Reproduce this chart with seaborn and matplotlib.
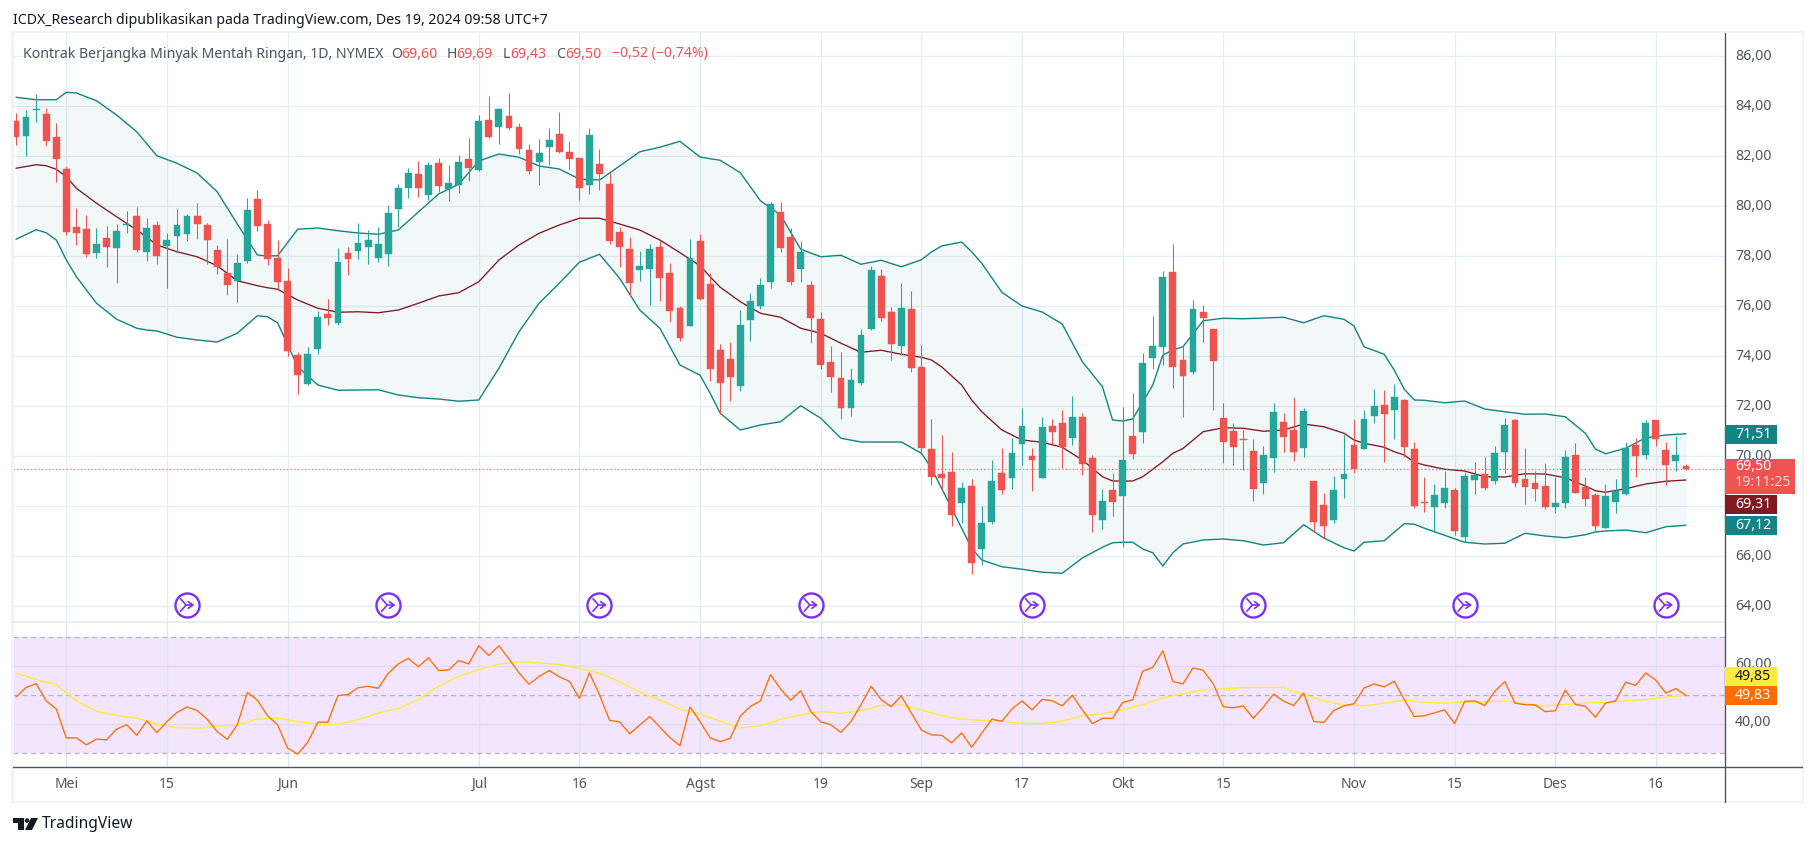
import numpy as np
import pandas as pd
import matplotlib
matplotlib.use("Agg")
import matplotlib.pyplot as plt
from matplotlib.patches import Rectangle, Polygon, Circle
import seaborn as sns

# harga harian (O, H, L, C)
opens = [
    83.41,82.81,83.85,83.69,82.77,81.49,79.17,79.09,78.13,78.73,
    78.33,79.27,79.61,78.17,79.25,78.41,78.81,78.89,79.61,79.25,
    78.25,77.33,77.01,77.81,80.29,79.29,77.93,77.01,74.05,72.89,
    74.29,75.69,75.33,78.13,78.21,78.37,77.93,78.09,79.89,80.73,
    81.29,80.45,81.73,80.69,80.85,81.89,81.45,83.45,83.17,83.61,
    83.17,82.25,81.77,82.37,82.89,82.17,81.93,80.85,81.69,80.89,
    78.97,78.29,77.45,77.49,78.37,77.33,75.93,75.21,78.61,76.89,
    74.25,73.89,72.81,75.45,76.01,76.97,79.77,78.77,77.49,76.85,
    75.49,73.77,73.13,71.93,72.93,75.09,77.21,75.77,74.41,75.89,
    73.57,70.29,69.29,69.37,68.13,68.81,66.29,67.37,69.33,69.13,
    70.49,70.01,69.13,71.21,71.33,70.73,71.57,69.93,67.45,68.65,
    68.41,70.81,70.97,73.93,74.37,77.37,73.85,73.37,75.77,75.09,
    71.53,71.01,70.70,70.21,68.93,69.93,71.37,71.05,70.33,69.01,
    68.05,67.45,69.09,70.45,70.29,71.61,72.05,71.85,72.25,70.29,
    68.17,67.97,68.13,68.65,66.77,69.05,69.29,69.01,70.17,71.45,
    69.09,68.93,68.81,67.97,68.13,70.05,68.77,68.45,67.13,68.17,
    68.49,70.45,70.05,71.45,70.25,69.81,69.60,
]
highs = [
    83.73,83.85,84.49,83.93,83.33,81.61,79.93,79.65,79.13,79.21,
    79.29,79.81,79.97,79.53,79.41,78.93,79.89,79.69,80.13,79.33,
    78.45,78.69,78.09,80.33,80.65,79.45,78.65,77.53,74.17,74.37,
    75.81,76.29,78.33,78.37,79.33,79.05,79.17,80.05,80.89,81.53,
    81.81,81.77,81.93,81.65,82.05,82.73,83.65,84.41,83.93,84.53,
    83.33,82.49,82.69,83.13,83.77,82.61,81.93,83.13,82.29,81.37,
    79.17,78.77,78.21,78.49,78.61,77.73,76.01,78.69,78.89,77.33,
    74.49,74.57,75.85,76.53,77.13,80.17,80.17,79.13,78.61,77.01,
    75.77,74.41,74.17,73.53,75.09,77.61,77.49,75.97,76.93,76.61,
    74.45,71.49,70.85,70.17,68.97,69.09,68.01,69.85,70.33,70.73,
    71.93,70.33,71.57,71.49,71.85,72.41,71.73,70.05,68.69,69.33,
    71.97,72.53,74.13,75.61,77.41,78.49,74.45,76.25,76.05,75.09,
    72.13,71.33,71.05,70.69,70.41,72.13,71.73,72.37,71.93,69.01,
    68.53,69.21,70.85,71.49,71.85,72.69,72.65,72.89,72.29,70.57,
    69.17,68.89,69.41,68.73,69.37,69.77,69.97,70.41,71.53,71.49,
    70.33,69.41,69.73,69.17,70.25,70.53,69.17,68.53,68.89,69.09,
    70.57,70.73,71.45,71.45,70.57,70.81,69.69,
]
lows = [
    82.45,82.01,83.37,82.41,80.97,78.85,78.45,77.97,77.93,77.57,
    76.93,78.93,78.17,77.81,77.69,76.73,78.17,78.61,78.69,77.69,
    77.29,76.45,76.17,77.73,79.01,77.65,76.69,74.01,72.49,72.85,
    74.09,75.25,75.25,77.25,77.89,77.69,77.77,77.61,79.17,80.33,
    80.37,80.25,80.57,80.21,80.53,81.01,81.41,82.73,82.49,83.05,
    82.09,81.29,80.85,81.65,82.13,81.49,80.25,80.49,80.65,78.49,
    77.57,76.41,77.01,76.05,76.21,75.37,74.61,75.21,76.25,73.01,
    71.69,72.21,72.61,74.61,75.89,76.73,78.17,76.85,76.97,74.53,
    73.49,72.57,71.49,71.61,72.85,75.05,75.41,73.85,74.05,73.37,
    70.13,68.85,68.69,67.21,67.33,65.29,65.65,67.29,68.49,68.69,
    69.65,68.61,69.13,70.49,69.53,70.45,69.25,66.97,67.09,67.61,
    66.37,69.89,70.53,73.49,73.65,72.73,71.57,73.29,74.57,71.85,
    69.73,69.65,69.45,68.21,68.49,69.37,70.17,69.81,69.97,66.97,
    66.73,67.33,68.33,69.33,70.29,71.33,69.77,70.69,69.97,67.93,
    67.77,66.97,67.93,66.85,66.57,68.49,68.65,68.89,69.33,68.77,
    68.09,68.21,67.89,67.73,67.93,68.53,68.01,67.01,67.13,67.73,
    68.45,69.17,69.89,70.41,68.85,69.41,69.43,
]
closes = [
    82.78,83.57,83.87,82.61,81.89,78.97,78.93,78.09,78.49,78.37,
    79.01,79.29,78.25,79.13,78.01,78.65,79.25,79.61,79.29,78.65,
    77.57,76.85,77.73,79.85,79.21,77.89,76.97,74.21,73.25,74.09,
    75.57,75.53,77.77,77.89,78.53,78.65,78.49,79.73,80.73,81.33,
    80.73,81.65,80.81,80.93,81.77,81.53,83.41,82.77,83.89,83.13,
    82.29,81.41,82.13,82.65,82.17,81.89,80.73,82.85,81.29,78.61,
    78.37,76.93,77.61,78.29,77.13,75.81,74.73,77.93,76.29,73.49,
    72.93,73.17,75.25,76.21,76.85,80.09,78.33,76.97,78.17,75.53,
    73.65,73.17,71.93,73.05,74.85,77.45,75.53,74.49,75.93,73.53,
    70.33,69.17,69.13,67.65,68.73,65.73,67.33,69.01,68.65,70.13,
    71.21,69.85,71.17,70.97,70.37,71.57,69.69,67.65,68.21,68.17,
    69.85,70.09,73.73,74.41,77.17,73.57,73.21,75.89,75.53,73.81,
    70.57,70.37,70.67,68.69,70.05,71.77,70.77,70.17,71.81,67.37,
    67.21,68.65,69.29,69.49,71.49,72.01,71.69,72.37,70.37,68.01,
    68.15,68.45,68.73,67.01,69.21,69.25,68.73,70.13,71.25,68.93,
    68.77,68.69,67.97,68.13,69.97,68.53,68.29,67.21,68.41,68.61,
    70.33,70.01,71.33,70.69,69.65,70.05,69.50,
]

# bollinger, dibaca tiap dua bar
band_idx = list(range(0, 167, 2))
bb_upper = [
    84.36,84.26,84.26,84.53,84.22,83.65,82.98,82.02,81.72,81.33,
    80.58,79.29,78.05,78.02,79.08,79.13,79.02,78.93,78.88,79.05,
    79.77,80.49,80.88,81.81,82.09,81.96,81.61,81.49,81.09,81.05,
    81.61,82.18,82.36,82.60,81.97,81.84,81.34,80.22,79.65,78.28,
    77.98,78.04,77.68,77.84,77.58,77.86,78.41,78.57,77.72,76.56,
    76.01,75.77,75.29,73.78,72.78,71.41,72.17,74.05,74.38,75.42,
    75.52,75.50,75.53,75.56,75.34,75.62,75.48,74.38,74.08,72.68,
    72.24,72.14,72.21,71.89,71.78,71.68,71.69,71.58,70.92,70.10,
    70.32,70.74,70.85,70.90,
]
bb_mid = [
    81.52,81.66,81.48,80.72,80.12,79.58,79.05,78.45,78.18,77.98,
    77.62,77.02,76.82,76.68,76.25,75.92,75.76,75.78,75.74,75.85,
    76.12,76.41,76.54,76.98,77.85,78.45,78.92,79.25,79.52,79.52,
    79.29,79.05,78.65,78.14,77.62,76.76,76.18,75.72,75.56,75.12,
    74.92,74.52,74.16,74.24,74.08,73.96,73.58,72.85,71.78,71.05,
    70.65,70.56,70.36,69.85,69.18,69.01,69.18,69.78,70.31,70.98,
    71.14,71.12,71.00,71.05,71.29,71.18,70.92,70.52,70.36,70.05,
    69.65,69.48,69.41,69.18,69.17,69.30,69.29,69.14,68.81,68.56,
    68.70,68.89,69.00,69.05,
]
bb_lower = [
    78.68,79.06,78.65,77.18,76.12,75.48,75.12,75.01,74.76,74.65,
    74.57,74.92,75.62,75.34,73.58,72.85,72.64,72.65,72.66,72.45,
    72.34,72.29,72.20,72.25,73.52,74.98,76.12,76.92,77.76,78.08,
    77.12,75.85,75.12,73.65,73.24,71.72,71.05,71.25,71.38,72.02,
    71.52,70.72,70.57,70.57,70.57,70.12,68.72,67.12,65.85,65.58,
    65.48,65.36,65.32,65.93,66.36,66.56,66.29,65.61,66.49,66.65,
    66.69,66.62,66.45,66.54,67.26,66.73,66.34,66.56,66.62,67.30,
    67.12,66.84,66.56,66.49,66.52,66.92,66.81,66.74,66.86,67.01,
    67.05,66.94,67.18,67.24,
]
# titik tambahan di tikungan tajam
extra_idx = [3, 5, 13, 25, 69, 91, 95, 109, 111, 113, 115, 133, 137, 139, 157]
extra_upper = [84.26,84.56,82.50,78.01,81.90,78.17,78.18,71.45,71.49,72.85,74.25,75.21,73.45,72.25,70.29]
extra_mid = [81.62,81.18,78.76,76.74,77.18,73.85,72.25,69.01,69.01,69.48,70.12,70.65,70.18,69.76,68.62]
extra_lower = [78.94,77.85,75.05,75.58,72.52,69.52,66.32,66.54,66.56,66.14,66.14,66.21,66.96,67.28,66.97]

# RSI per bar, MA-nya dibaca tiap dua bar
rsi = [
    49.3,52.6,53.9,48.0,45.2,35.3,35.3,32.9,34.9,34.6,
    38.3,39.8,36.2,41.1,37.1,40.9,44.0,45.9,44.7,41.7,
    37.4,34.8,39.8,50.9,48.2,42.9,39.8,31.8,29.7,33.8,
    40.7,40.7,49.8,50.2,52.5,53.0,52.3,57.4,60.7,62.6,
    59.7,62.8,58.4,58.6,61.8,60.7,66.9,63.6,66.9,62.4,
    57.6,53.7,56.4,58.4,56.3,54.7,48.9,57.6,50.1,41.3,
    40.8,36.7,39.7,42.6,39.0,35.4,32.6,45.9,40.9,35.3,
    34.0,35.2,42.8,46.1,48.0,57.0,52.1,48.2,51.5,44.4,
    40.8,39.8,37.2,40.9,46.7,53.0,48.4,46.0,49.7,43.8,
    38.0,36.3,36.2,33.6,37.0,32.1,36.9,41.7,41.0,45.2,
    48.0,44.9,48.5,48.0,46.3,49.9,44.9,40.2,42.0,42.0,
    47.5,48.3,58.2,59.5,65.2,54.6,53.8,59.3,58.5,53.9,
    46.0,45.6,46.3,42.0,45.9,50.3,47.9,46.4,50.7,40.9,
    40.6,44.7,46.3,47.0,52.4,53.8,52.8,54.7,48.4,42.6,
    42.9,43.9,44.9,40.2,47.8,48.0,46.4,51.3,54.6,47.2,
    46.7,46.6,44.3,44.6,51.7,46.8,46.1,42.4,47.2,48.0,
    54.4,53.3,57.6,55.1,50.7,52.2,49.8,
]
rsi_ma = [
    57.6,55.3,53.6,48.0,44.4,43.0,42.1,40.1,38.9,38.6,
    39.3,39.7,41.7,42.1,40.9,40.0,40.0,41.5,43.8,45.4,
    48.4,53.0,56.4,58.7,60.6,61.4,61.0,60.5,59.1,57.6,
    54.5,51.0,48.3,45.2,43.4,41.1,38.7,39.5,41.7,43.2,
    44.4,43.7,44.7,46.4,46.6,44.9,42.9,41.7,41.3,40.9,
    40.3,40.2,41.1,42.9,43.6,44.9,46.7,49.0,50.5,51.8,
    52.1,52.6,52.6,52.6,50.1,48.0,46.6,46.3,47.2,48.3,
    47.5,47.2,47.6,47.6,48.0,47.0,46.2,46.8,47.2,47.5,
    48.0,48.4,49.3,50.0,
]

# sumbu waktu, label & kejadian
tick_idx = [5, 15, 27, 46, 56, 68, 80, 90, 100, 110, 120, 133, 143, 153, 163]
tick_labels = ["Mei", "15", "Jun", "Jul", "16", "Agst", "19", "Sep", "17", "Okt", "15", "Nov", "15", "Des", "16"]
month_labels = ["Mei", "Jun", "Jul", "Agst", "Sep", "Okt", "Nov", "Des"]
event_idx = [17, 37, 58, 79, 101, 123, 144, 164]
price_ticks = [64, 66, 68, 70, 72, 74, 76, 78, 80, 82, 84, 86]
rsi_ticks = [40, 60]

UP = "#26a69a"
DOWN = "#ef5350"
TEAL = "#138484"
MAROON = "#801922"
PURPLE = "#7b2ff7"
GRID = "#e6edf3"
TXT = "#50535e"
W, H = 1814, 846

sns.set_theme(style="white")
plt.rcParams["font.family"] = ["Noto Sans", "DejaVu Sans"]

df = pd.DataFrame({"open": opens, "high": highs, "low": lows, "close": closes})
df["i"] = df.index
df["color"] = np.where(df["close"] >= df["open"], UP, DOWN)
bands = pd.concat([
    pd.DataFrame({"i": band_idx, "upper": bb_upper, "mid": bb_mid, "lower": bb_lower}),
    pd.DataFrame({"i": extra_idx, "upper": extra_upper, "mid": extra_mid, "lower": extra_lower}),
]).sort_values("i")
ma = pd.DataFrame({"i": band_idx, "ma": rsi_ma})


def px_axes(fig, left, top, right, bottom):
    return fig.add_axes([left / W, 1 - bottom / H, (right - left) / W, (bottom - top) / H])


fig = plt.figure(figsize=(W / 100, H / 100), dpi=100, facecolor="white")
ax = px_axes(fig, 13, 33, 1725, 622)
ax2 = px_axes(fig, 13, 622, 1725, 767)
xlim = (-0.30, 169.88)

# panel harga
ax.set_xlim(*xlim)
ax.set_ylim(63.37, 86.93)
ax.vlines(tick_idx, 63, 87, color=GRID, lw=0.9, zorder=0)
ax.hlines(price_ticks, *xlim, color=GRID, lw=0.9, zorder=0)
ax.fill_between(bands["i"], bands["upper"], bands["lower"], color=TEAL, alpha=0.05, lw=0, zorder=1)
for col, c, lw in [("upper", TEAL, 1.0), ("lower", TEAL, 1.0), ("mid", MAROON, 0.95)]:
    sns.lineplot(data=bands, x="i", y=col, ax=ax, color=c, lw=lw, estimator=None, sort=False, zorder=2)
ax.vlines(df["i"], df["low"], df["high"], colors=df["color"], lw=0.75, zorder=3)
ax.bar(df["i"], (df["close"] - df["open"]).abs(), bottom=df[["open", "close"]].min(axis=1), width=0.68,
       color=df["color"], edgecolor=df["color"], lw=0.3, zorder=4)
ax.axhline(closes[-1], color=DOWN, lw=0.8, ls=(0, (1, 2.2)), zorder=5)
ax.scatter(event_idx, [64.05] * len(event_idx), s=300, facecolor="white", edgecolor=PURPLE, lw=1.7, zorder=6)
for e in event_idx:
    ax.annotate("", xy=(e + 0.72, 64.05), xytext=(e - 0.1, 64.05), zorder=7,
                arrowprops=dict(arrowstyle="->,head_width=0.2,head_length=0.28", color=PURPLE, lw=1.2,
                                shrinkA=0, shrinkB=0))
    ax.plot([e - 0.65, e - 0.1, e - 0.65], [64.3, 64.05, 63.8], color=PURPLE, lw=1.2, zorder=7)
ax.axis("off")

# panel RSI
ax2.set_xlim(*xlim)
ax2.set_ylim(25.3, 75.06)
ax2.axhspan(30, 70, color="#f3e5fd", lw=0, zorder=0)
ax2.vlines(tick_idx, 25, 76, color="#dfe3f2", lw=0.9, zorder=1)
ax2.hlines(rsi_ticks, *xlim, color="#dedcf1", lw=0.9, zorder=1)
ax2.hlines([30, 50, 70], *xlim, color="#b5b3c0", lw=0.9, ls=(0, (4, 3)), zorder=1)
sns.lineplot(data=ma, x="i", y="ma", ax=ax2, color="#ffeb3b", lw=1.0, estimator=None, sort=False, zorder=2)
sns.lineplot(x=df["i"], y=rsi, ax=ax2, color="#ff6d00", lw=0.95, estimator=None, sort=False, zorder=3)
ax2.axis("off")

# lapisan piksel: bingkai, label, logo
ov = fig.add_axes([0, 0, 1, 1], zorder=10)
ov.set_xlim(0, W)
ov.set_ylim(H, 0)
ov.axis("off")
ov.patch.set_alpha(0)
FRAME = "#f0f3fa"
for r in [(11, 31, 1793, 2.5), (11, 801, 1793, 2.5)]:
    ov.add_patch(Rectangle((r[0], r[1]), r[2], r[3], color=FRAME, lw=0))
for r in [(11, 31, 2.5, 772.5), (1801.5, 31, 2.5, 772.5)]:
    ov.add_patch(Rectangle((r[0], r[1]), r[2], r[3], color=FRAME, lw=0))
ov.plot([13, 1725], [622, 622], color="#e6ebf2", lw=1.2)
ov.plot([13, 1802], [767, 767], color=TXT, lw=1.0)
ov.plot([1725, 1725], [33, 802], color=TXT, lw=1.0)

ov.text(13, 20, "ICDX_Research dipublikasikan pada TradingView.com, Des 19, 2024 09:58 UTC+7",
        fontsize=10.2, color="#131722", va="center")
ov.text(23, 54, "Kontrak Berjangka Minyak Mentah Ringan, 1D, NYMEX", fontsize=10.15, color="#50535e", va="center")
for x, s, c in [(391, "O", TXT), (401, "69,60", DOWN), (447, "H", TXT), (456, "69,69", DOWN),
                (503, "L", TXT), (510, "69,43", DOWN), (556, "C", TXT), (565, "69,50", DOWN),
                (612, "\u22120,52 (\u22120,74%)", DOWN)]:
    ov.text(x, 54, s, fontsize=10.15, color=c, va="center")

for t in price_ticks:
    ov.text(1735, 456.3 - (t - 70) * 25, f"{t},00", fontsize=10.2, color=TXT, va="center", zorder=3)
ov.text(1735, 664, "60,00", fontsize=10.2, color=TXT, va="center", zorder=3)
ov.text(1735, 723, "40,00", fontsize=10.2, color=TXT, va="center", zorder=3)

# kotak nilai terakhir, menutup label sumbu seperti aslinya
boxes = [(425, 444, 1777, TEAL, "71,51", "white"), (495, 514, 1777, MAROON, "69,31", "white"),
         (516, 535, 1777, TEAL, "67,12", "white"), (667, 686, 1777, "#ffeb3b", "49,85", "#131722"),
         (686, 705, 1777, "#ff6d00", "49,83", "white")]
for y0, y1, x1, c, s, tc in boxes:
    ov.add_patch(Rectangle((1725, y0), x1 - 1725, y1 - y0, color=c, lw=0, zorder=5))
    ov.text(1735, (y0 + y1) / 2, s, fontsize=10.2, color=tc, va="center", zorder=6)
ov.add_patch(Rectangle((1725, 459), 70, 35, color=DOWN, lw=0, zorder=5))
ov.text(1735, 467, "69,50", fontsize=10.2, color="white", va="center", zorder=6)
ov.text(1735, 483, "19:11:25", fontsize=10.2, color="#fbd0cf", va="center", zorder=6)

# label tanggal
for i, s in zip(tick_idx, tick_labels):
    x = 16 + 10.06 * i
    ov.text(x, 784, s, fontsize=10.0, color=TXT, ha="center", va="center",
            fontweight="bold" if s in month_labels else "normal")

# logo TradingView
ov.add_patch(Polygon([(13, 818), (24, 818), (24, 830), (18, 830), (18, 823), (13, 823)], color="#131722", lw=0))
ov.add_patch(Circle((27, 820.5), 2.3, color="#131722", lw=0))
ov.add_patch(Polygon([(31, 818), (38, 818), (32, 830), (25, 830)], color="#131722", lw=0))
ov.text(42, 824, "TradingView", fontsize=11.2, color="#131722", va="center")

fig.savefig("out.png", dpi=100)
